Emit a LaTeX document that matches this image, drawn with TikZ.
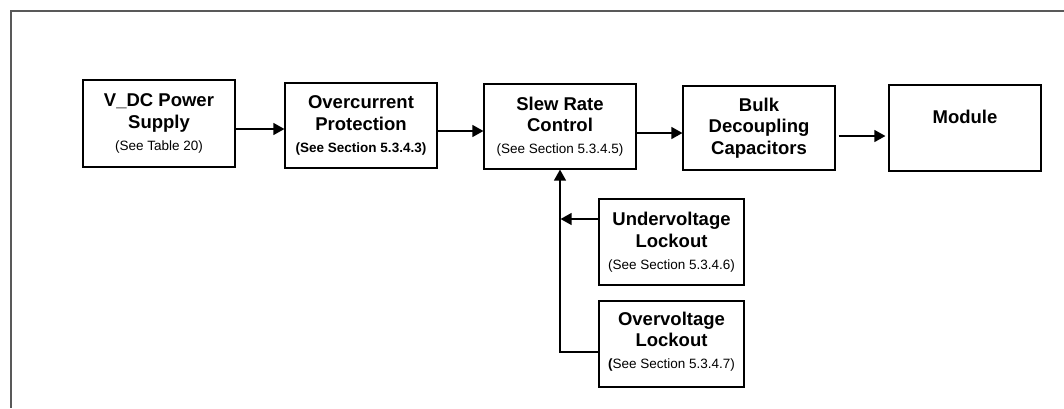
\documentclass[tikz,border=0pt]{standalone}
\usepackage{fontspec}
\setmainfont{Liberation Sans}
\usetikzlibrary{arrows.meta,positioning,calc}
\newcommand{\refnote}[1]{{\mdseries\fontsize{13.5}{16}\selectfont #1}}
\tikzset{feed/.style = {line width=1.3pt, -{Triangle[length=11pt,width=12pt]}}}

\begin{document}
\begin{tikzpicture}[x=1pt,y=-1pt,
  block/.style={draw,line width=1.2pt,minimum width=152pt,minimum height=85pt,
    inner sep=0pt,align=center,font=\bfseries\fontsize{18.5}{21.7}\selectfont},
  lockbox/.style={block,minimum width=145pt,minimum height=86pt},
  frameline/.style={draw=black!65,line width=1.5pt}
  ]
  \useasboundingbox (0,0) rectangle (1064,408);

  % the frame
  \draw[frameline] (1064,11) -- (11,11) -- (11,408);

  % the main path
  \node[block,minimum height=87pt] (supply) at (159,123.5) {V\_DC Power\\Supply\\\refnote{(See Table 20)}};
  \node[block] (ocp) at (361,125.5) {Overcurrent\\Protection\\\refnote{\bfseries(See Section 5.3.4.3)}};
  \node[block] (slew) at (560,126.5) {Slew Rate\\Control\\\refnote{(See Section 5.3.4.5)}};
  \node[block,minimum height=84pt] (bulk) at (759,128) {Bulk\\Decoupling\\Capacitors};
  \node[block,minimum height=86pt] (module) at (965,128) {Module\\\phantom{M}};

  % the lockouts
  \node[lockbox] (uvlo) at (671.5,242) {Undervoltage\\Lockout\\\refnote{(See Section 5.3.4.6)}};
  \node[lockbox] (ovlo) at (671.5,344) {Overvoltage\\Lockout\\\refnote{\textbf{(}See Section 5.3.4.7)}\\[-14pt]\mbox{}};

  % the arrows
  \draw[feed] ([yshift=-5.5pt]supply.east) -- ([yshift=-5.5pt]supply.east -| ocp.west);
  \draw[feed] ([yshift=-5.5pt]ocp.east) -- ([yshift=-5.5pt]ocp.east -| slew.west);
  \draw[feed] ([yshift=-6.5pt]slew.east) -- ([yshift=-6.5pt]slew.east -| bulk.west);
  \draw[feed,shorten <=3pt,shorten >=3pt] ([yshift=-8pt]bulk.east) -- ([yshift=-8pt]bulk.east -| module.west);
  \draw[feed] ([yshift=-8pt]ovlo.west) -| (slew.south);
  \draw[feed,shorten >=0.6pt] ([yshift=23pt]uvlo.west) -- ([yshift=23pt]uvlo.west -| slew.south);
\end{tikzpicture}
\end{document}
